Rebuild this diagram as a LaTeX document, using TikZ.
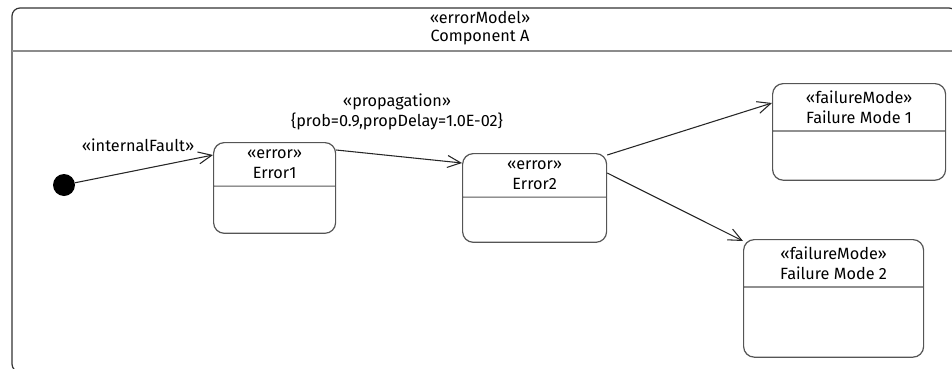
\documentclass[tikz,border=0pt]{standalone}
\usepackage{fontspec}
\setmainfont{Fira Sans}
\usetikzlibrary{shapes.multipart,arrows.meta}

\definecolor{boxgray}{RGB}{85,85,85}
\definecolor{rulegray}{RGB}{140,140,140}

\tikzset{
  errbox/.style={draw=boxgray, line width=0.9pt, rounded corners=8pt,
    rectangle split, rectangle split parts=2, align=center,
    inner ysep=4.9pt, rectangle split empty part height=#1,
    rectangle split empty part depth=0pt, anchor=north west},
  trans/.style={draw=black!85, line width=0.8pt,
    -{Straight Barb[length=10pt,width=9pt]}},
}

\begin{document}
\begin{tikzpicture}[x=0.75pt, y=-0.75pt, font=\fontsize{12.2}{15.2}\selectfont]

  \path[use as bounding box, clip] (0,0) rectangle (952,368);

  % Component frame
  \draw[black!80, line width=0.9pt, rounded corners=6pt] (12,8) rectangle (957,372);
  \draw[rulegray, line width=1.5pt] (12,51) -- (957,51);
  \node[align=center, font=\fontsize{12.2}{14}\selectfont] (cmp) at (480,28) {«errorModel»\\Component A};

  % Define nodes
  \node[circle, fill=black, minimum size=16.5pt, inner sep=0pt] (init) at (64,185) {};
  \node[errbox=24.7pt, minimum width=91.5pt] (e1) at (213,142) {«error»\\Error1 \nodepart{two}};
  \node[errbox=23.2pt, minimum width=108pt] (e2) at (462,153) {«error»\\Error2 \nodepart{two}};
  \node[errbox=26.2pt, minimum width=129.75pt] (fm1) at (772,83) {«failureMode»\\Failure Mode 1 \nodepart{two}};
  \node[errbox=41.9pt, minimum width=135pt] (fm2) at (743,239) {«failureMode»\\Failure Mode 2 \nodepart{two}};

  % Connect the nodes
  \draw[trans] (init) -- ([yshift=-9.75pt]e1.north west);
  \draw[trans] ([yshift=-6pt]e1.north east) -- ([yshift=-7.5pt]e2.north west);
  \draw[trans] ([yshift=-1.5pt]e2.north east) -- ([yshift=-15pt]fm1.north west);
  \draw[trans] ([yshift=-15pt]e2.north east) -- ([yshift=-1.5pt]fm2.north west);

  % Labels
  \node (lfault) at (138,145) {«internalFault»};
  \node[align=center] (lprop) at (397,112) {«propagation»\\\{prob=0.9,propDelay=1.0E-02\}};

\end{tikzpicture}
\end{document}
